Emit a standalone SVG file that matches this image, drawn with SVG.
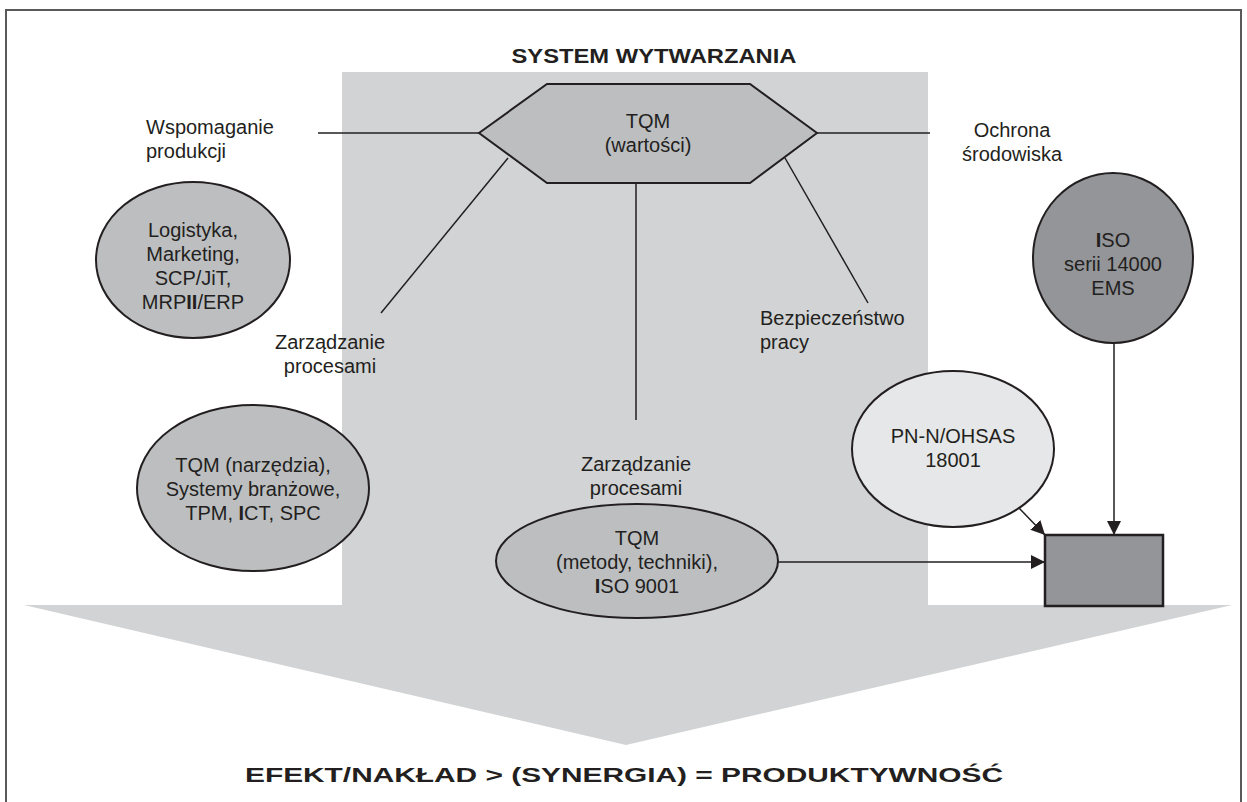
<svg xmlns="http://www.w3.org/2000/svg" width="1247" height="802" viewBox="0 0 1247 802">
<defs>
<style>
text{font-family:"Liberation Sans",Arial,sans-serif;font-size:20px;fill:#231f20}
.c{text-anchor:middle}
.b{font-weight:bold}
.ell{stroke:#231f20;stroke-width:2}
.mid{fill:#bcbec0}
.light{fill:#e6e7e8}
.dark{fill:#939598}
.ln{stroke:#231f20;stroke-width:1.5;fill:none}
</style>
<marker id="ah" viewBox="0 0 10 10" refX="10" refY="5" markerWidth="14" markerHeight="14" markerUnits="userSpaceOnUse" orient="auto">
<path d="M0,0 L10,5 L0,10 z" fill="#231f20"/>
</marker>
</defs>
<rect x="0" y="0" width="1247" height="802" fill="#fff"/>
<g id="frame"><path d="M6,812 V10 H1241 V812" fill="none" stroke="#58595b" stroke-width="2"/></g>
<g id="background">
<rect x="342" y="72" width="586" height="533" fill="#d1d3d4"/>
<polygon points="24,605 1232,605 626,745" fill="#d1d3d4"/>
</g>
<text id="title" class="c b" x="654" y="63" font-size="24" textLength="285" lengthAdjust="spacingAndGlyphs">SYSTEM WYTWARZANIA</text>
<g id="connectors">
<line class="ln" x1="318" y1="133" x2="479" y2="133"/>
<line class="ln" x1="817" y1="133" x2="930" y2="133"/>
<line class="ln" x1="508" y1="158" x2="381" y2="313"/>
<line class="ln" x1="785" y1="158" x2="868" y2="303"/>
<line class="ln" x1="636" y1="183" x2="636" y2="420"/>
<line class="ln" x1="778" y1="562" x2="1045" y2="562" marker-end="url(#ah)"/>
<line class="ln" x1="1019" y1="508" x2="1045" y2="535" marker-end="url(#ah)"/>
<line class="ln" x1="1114" y1="343" x2="1114" y2="535" marker-end="url(#ah)"/>
</g>
<g id="tqm-wartosci">
<polygon class="ell mid" points="479,133 547,84 750,84 817,133 750,183 547,183"/>
<text class="c" x="648" y="128">TQM</text>
<text class="c" x="648" y="152">(wartości)</text>
</g>
<g id="label-wspomaganie">
<text x="146" y="134">Wspomaganie</text>
<text x="146" y="158">produkcji</text>
</g>
<g id="label-ochrona">
<text class="c" x="1012" y="137">Ochrona</text>
<text class="c" x="1012" y="161">środowiska</text>
</g>
<g id="label-zarzadzanie-left">
<text class="c" x="330" y="349">Zarządzanie</text>
<text class="c" x="330" y="373">procesami</text>
</g>
<g id="label-zarzadzanie-center">
<text class="c" x="636" y="471">Zarządzanie</text>
<text class="c" x="636" y="495">procesami</text>
</g>
<g id="label-bezpieczenstwo">
<text x="760" y="325">Bezpieczeństwo</text>
<text x="760" y="349">pracy</text>
</g>
<g id="logistyka">
<ellipse class="ell mid" cx="193" cy="260" rx="97" ry="78"/>
<text class="c" x="193" y="237">Logistyka,</text>
<text class="c" x="193" y="261">Marketing,</text>
<text class="c" x="193" y="285">SCP/JiT,</text>
<text class="c" x="193" y="309">MRP<tspan class="b">II</tspan>/ERP</text>
</g>
<g id="tqm-narzedzia">
<ellipse class="ell mid" cx="253" cy="488" rx="116" ry="83"/>
<text class="c" x="253" y="472">TQM (narzędzia),</text>
<text class="c" x="253" y="496">Systemy branżowe,</text>
<text class="c" x="253" y="520">TPM, <tspan class="b">I</tspan>CT, SPC</text>
</g>
<g id="tqm-metody">
<ellipse class="ell mid" cx="637" cy="561" rx="141" ry="57"/>
<text class="c" x="637" y="545">TQM</text>
<text class="c" x="637" y="569">(metody, techniki),</text>
<text class="c" x="637" y="593"><tspan class="b">I</tspan>SO 9001</text>
</g>
<g id="pn-n-ohsas">
<ellipse class="ell light" cx="953" cy="449" rx="101" ry="78"/>
<text class="c" x="953" y="443">PN-N/OHSAS</text>
<text class="c" x="953" y="467">18001</text>
</g>
<g id="iso-14000">
<ellipse class="ell dark" cx="1113" cy="258" rx="80" ry="85"/>
<text class="c" x="1113" y="247"><tspan class="b">I</tspan>SO</text>
<text class="c" x="1113" y="271">serii 14000</text>
<text class="c" x="1113" y="295">EMS</text>
</g>
<g id="box">
<rect x="1045" y="535" width="118" height="71" fill="#939598" stroke="#231f20" stroke-width="2.5"/>
</g>
<text id="result" class="c b" x="624" y="782" font-size="24" textLength="758" lengthAdjust="spacingAndGlyphs">EFEKT/NAKŁAD &gt; (SYNERGIA) = PRODUKTYWNOŚĆ</text>
</svg>
